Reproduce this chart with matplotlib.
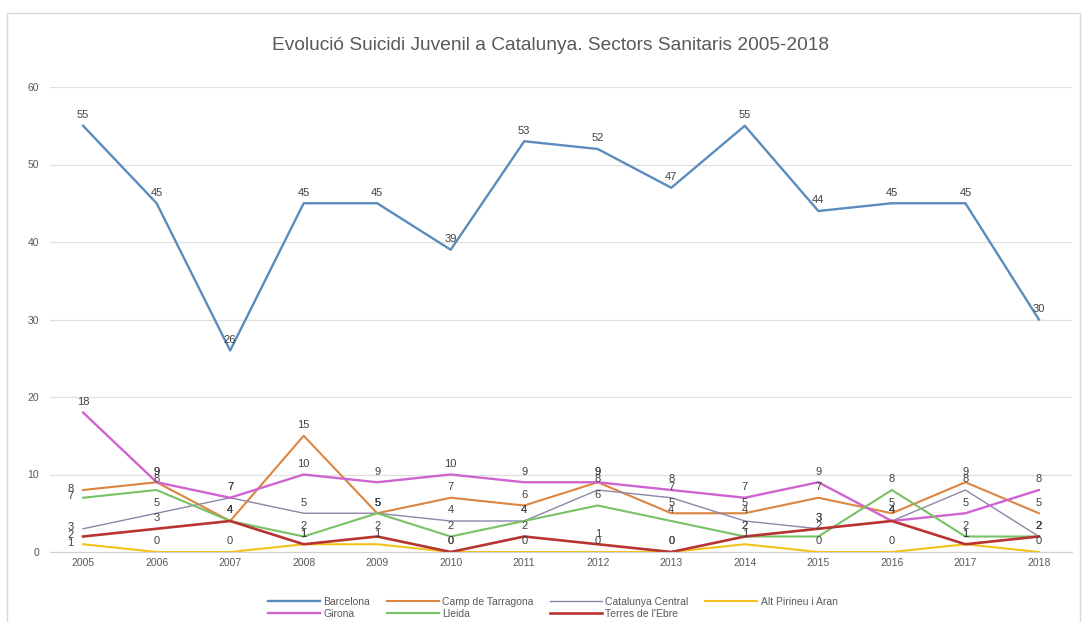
import numpy as np
import matplotlib.pyplot as plt
from matplotlib.patches import Rectangle

plt.rcParams['font.family'] = ['Liberation Sans', 'DejaVu Sans']

# ---------------- data ----------------
years = [str(y) for y in range(2005, 2019)]
barcelona      = [55, 45, 26, 45, 45, 39, 53, 52, 47, 55, 44, 45, 45, 30]
camp_tarragona = [8, 9, 4, 15, 5, 7, 6, 9, 5, 5, 7, 5, 9, 5]
cat_central    = [3, 5, 7, 5, 5, 4, 4, 8, 7, 4, 3, 4, 8, 2]
alt_pirineu    = [1, 0, 0, 1, 1, 0, 0, 0, 0, 1, 0, 0, 1, 0]
girona         = [18, 9, 7, 10, 9, 10, 9, 9, 8, 7, 9, 4, 5, 8]
lleida         = [7, 8, 4, 2, 5, 2, 4, 6, 4, 2, 2, 8, 2, 2]
terres_ebre    = [2, 3, 4, 1, 2, 0, 2, 1, 0, 2, 3, 4, 1, 2]

series = [
    ("Barcelona", barcelona, "#5a8dbd", 1.7),
    ("Camp de Tarragona", camp_tarragona, "#dd8540", 1.5),
    ("Catalunya Central", cat_central, "#8c86a6", 1.0),
    ("Alt Pirineu i Aran", alt_pirineu, "#f2c21a", 1.5),
    ("Girona", girona, "#cf63d0", 1.7),
    ("Lleida", lleida, "#78c266", 1.5),
    ("Terres de l'Ebre", terres_ebre, "#b83430", 1.9),
]

# ---------------- figure ----------------
fig = plt.figure(figsize=(10.84, 6.22), dpi=100)
fig.patches.append(Rectangle((7/1084, -0.01), 1073/1084, 1 - 13/622 + 0.01,
                             transform=fig.transFigure, fill=False,
                             edgecolor='#d9d9d9', linewidth=1.0))
ax = fig.add_axes([50/1084, 1 - 552/622, 1022/1084, 465/622])

x = np.arange(len(years))
handles = {}
for name, vals, col, lw in series:
    ln, = ax.plot(x, vals, color=col, linewidth=lw, label=name, solid_joinstyle='round')
    handles[name] = ln
    for i, v in enumerate(vals):
        if i == 0 and name not in ("Barcelona", "Girona"):
            ax.annotate(str(v), (i, v), xytext=(-9, 1), textcoords='offset points',
                        ha='center', va='center', fontsize=8, color='#404040')
        else:
            ax.annotate(str(v), (i, v), xytext=(0, 4), textcoords='offset points',
                        ha='center', va='bottom', fontsize=8, color='#404040')

ax.set_xlim(-0.45, len(years) - 0.55)
ax.set_ylim(0, 60)
ax.set_yticks(range(0, 61, 10))
ax.set_xticks(x)
ax.set_xticklabels(years)
ax.yaxis.grid(True, color='#e0e0e0', linewidth=0.9)
ax.set_axisbelow(True)
for s in ['top', 'right', 'left']:
    ax.spines[s].set_visible(False)
ax.spines['bottom'].set_color('#d0d0d0')
ax.tick_params(axis='both', length=0, labelsize=7.5, labelcolor='#595959')
ax.tick_params(axis='y', pad=8)
ax.tick_params(axis='x', pad=4)

fig.text(0.508, 1 - 46/622, "Evolució Suicidi Juvenil a Catalunya. Sectors Sanitaris 2005-2018",
         ha='center', va='center', fontsize=13.8, color='#595959')

# legend rows: first four sectors on top, remaining three below
order = ["Barcelona", "Girona", "Camp de Tarragona", "Lleida",
         "Catalunya Central", "Terres de l'Ebre", "Alt Pirineu i Aran"]
fig.legend([handles[n] for n in order], order, loc='center',
           bbox_to_anchor=(0.51, 1 - 608/622), ncol=4, frameon=False,
           fontsize=7.5, labelcolor='#595959', handlelength=5.0, columnspacing=1.6,
           handletextpad=0.3, labelspacing=0.2)

plt.savefig('out.png', dpi=100)
